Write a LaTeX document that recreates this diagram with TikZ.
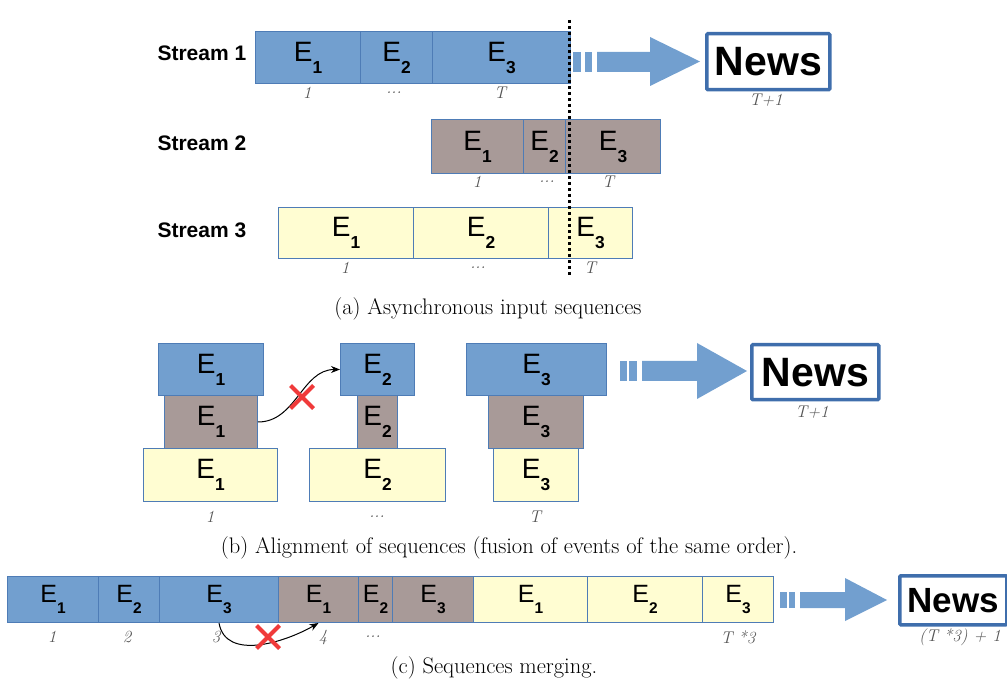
\documentclass[tikz,border=0pt]{standalone}
\usepackage{fontspec}
\usepackage{graphicx}
\setsansfont{Liberation Sans}
\usetikzlibrary{shapes.misc,arrows.meta}
\definecolor{evblue}{HTML}{729FCF}
\definecolor{evbrown}{HTML}{A89A98}
\definecolor{evyellow}{HTML}{FFFDD2}
\definecolor{edgeblue}{HTML}{4E7CB6}
\definecolor{newsblue}{HTML}{3F6EAC}
\definecolor{idxgray}{HTML}{555555}
\definecolor{xred}{HTML}{F03A3A}
% event label: big E with a bold index below the line
\newcommand{\ev}[1]{E\raisebox{-0.43em}{\scalebox{0.62}{\bfseries #1}}}
\tikzset{
  ev/.style={draw=edgeblue, line width=1pt, inner sep=0pt, anchor=north west,
    font=\sffamily\fontsize{28}{28}\selectfont},
  blu/.style={ev, fill=evblue},
  brn/.style={ev, fill=evbrown},
  ylw/.style={ev, fill=evyellow},
  idx/.style={font=\itshape\fontsize{17}{17}\selectfont, text=idxgray},
  strm/.style={anchor=west, font=\sffamily\bfseries\fontsize{21}{21}\selectfont},
  news/.style={draw=newsblue, line width=3.5pt, rounded corners=1pt, fill=white,
    inner sep=0pt, anchor=north west, font=\sffamily\bfseries\fontsize{41}{41}\selectfont},
  caption/.style={font=\fontsize{22.5}{22.5}\selectfont},
  cut/.style={line width=3pt, dash pattern=on 3.5pt off 2.5pt},
  nope/.style={draw=xred, cross out, line width=4pt, minimum size=19pt, inner sep=0pt},
}
\begin{document}
\begin{tikzpicture}[x=1pt,y=-1pt]
 \useasboundingbox (0,0) rectangle (1007,684);
 % (a) asynchronous streams
 \node[strm] (lab1) at (154,53) {Stream 1};
 \node[strm] (lab2) at (154,143) {Stream 2};
 \node[strm] (lab3) at (154,230) {Stream 3};
 \node[blu, minimum width=105pt, minimum height=52pt] (s1a) at (255,31) {\ev{1}};
 \node[blu, minimum width=72pt, minimum height=52pt] (s1b) at (360,31) {\ev{2}};
 \node[blu, minimum width=138pt, minimum height=52pt] (s1c) at (432,31) {\ev{3}};
 \node[brn, minimum width=92pt, minimum height=54pt] (s2a) at (431,119) {\ev{1}};
 \node[brn, minimum width=42pt, minimum height=54pt] (s2b) at (523,119) {\ev{2}};
 \node[brn, minimum width=95pt, minimum height=54pt] (s2c) at (565,119) {\ev{3}};
 \node[ylw, minimum width=135pt, minimum height=51pt] (s3a) at (278,207) {\ev{1}};
 \node[ylw, minimum width=135pt, minimum height=51pt] (s3b) at (413,207) {\ev{2}};
 \node[ylw, minimum width=84pt, minimum height=51pt] (s3c) at (548,207) {\ev{3}};
 \node[idx] (t1a) at (307,93) {1};
 \node[idx] (t1b) at (394,93) {...};
 \node[idx] (t1c) at (500,93) {T};
 \node[idx] (t2a) at (477,182) {1};
 \node[idx] (t2b) at (547,182) {...};
 \node[idx] (t2c) at (608,182) {T};
 \node[idx] (t3a) at (345,268) {1};
 \node[idx] (t3b) at (478,268) {...};
 \node[idx] (t3c) at (590,268) {T};
 \coordinate (cuttop) at (569,20);
 \coordinate (cutbot) at (569,277);
 \draw[cut] (cuttop) -- (cutbot);
 \fill[evblue] (573,52) rectangle (581,72);
 \fill[evblue] (585,52) rectangle (592,72);
 \fill[evblue] (597,52)--(650,52)--(650,37)--(700,61.5)--(650,86)--(650,72)--(597,72)--cycle;
 \node[news, minimum width=123pt, minimum height=56pt] (news1) at (705,32) {News};
 \node[idx] (tn1) at (766,100) {T+1};
 \node[caption] (capa) at (488,309) {(a) Asynchronous input sequences};
 % (b) alignment
 \node[blu, minimum width=105pt, minimum height=52pt] (m1a) at (158,343) {\ev{1}};
 \node[brn, minimum width=93pt, minimum height=53pt] (m1b) at (164,395) {\ev{1}};
 \node[ylw, minimum width=134pt, minimum height=53pt] (m1c) at (143,448) {\ev{1}};
 \node[blu, minimum width=74pt, minimum height=52pt] (m2a) at (340,343) {\ev{2}};
 \node[brn, minimum width=40pt, minimum height=53pt] (m2b) at (357,395) {\ev{2}};
 \node[ylw, minimum width=136pt, minimum height=53pt] (m2c) at (309,448) {\ev{2}};
 \node[blu, minimum width=140pt, minimum height=52pt] (m3a) at (466,343) {\ev{3}};
 \node[brn, minimum width=95pt, minimum height=53pt] (m3b) at (488,395) {\ev{3}};
 \node[ylw, minimum width=85pt, minimum height=53pt] (m3c) at (493,448) {\ev{3}};
 \node[idx] (u1) at (210,517) {1};
 \node[idx] (u2) at (377,517) {...};
 \node[idx] (u3) at (535,517) {T};
 \draw[-{Stealth[length=9pt,width=7pt]}, line width=1pt] (m1b.east) to[out=0,in=180] (m2a.west);
 \node[nope] (x1) at (302,397) {};
 \fill[evblue] (620,361) rectangle (627,381);
 \fill[evblue] (629,361) rectangle (637,381);
 \fill[evblue] (642,361)--(697,361)--(697,343)--(747,371)--(697,399)--(697,381)--(642,381)--cycle;
 \node[news, minimum width=127pt, minimum height=55pt] (news2) at (750,343) {News};
 \node[idx] (tn2) at (812,412) {T+1};
 \node[caption] (capb) at (509,548) {(b) Alignment of sequences (fusion of events of the same order).};
 % (c) merging
 \tikzset{ev/.append style={font=\sffamily\fontsize{25}{25}\selectfont}}
 \node[blu, minimum width=91pt, minimum height=46pt] (b1) at (7,576) {\ev{1}};
 \node[blu, minimum width=61pt, minimum height=46pt] (b2) at (98,576) {\ev{2}};
 \node[blu, minimum width=119pt, minimum height=46pt] (b3) at (159,576) {\ev{3}};
 \node[brn, minimum width=80pt, minimum height=46pt] (b4) at (278,576) {\ev{1}};
 \node[brn, minimum width=34pt, minimum height=46pt] (b5) at (358,576) {\ev{2}};
 \node[brn, minimum width=81pt, minimum height=46pt] (b6) at (392,576) {\ev{3}};
 \node[ylw, minimum width=114pt, minimum height=46pt] (b7) at (473,576) {\ev{1}};
 \node[ylw, minimum width=115pt, minimum height=46pt] (b8) at (587,576) {\ev{2}};
 \node[ylw, minimum width=71pt, minimum height=46pt] (b9) at (702,576) {\ev{3}};
 \node[idx] (v1) at (52,637) {1};
 \node[idx] (v2) at (127,637) {2};
 \node[idx] (v3) at (216,637) {3};
 \node[idx] (v4) at (323,637) {4};
 \node[idx] (v5) at (373,637) {...};
 \node[idx] (v9) at (738,637) {T *3};
 \draw[-{Stealth[length=9pt,width=7pt]}, line width=1pt] (b3.south) to[out=-80,in=-150] (b4.south);
 \node[nope] (x2) at (268,637) {};
 \fill[evblue] (780,592) rectangle (787,608);
 \fill[evblue] (789,592) rectangle (795,608);
 \fill[evblue] (800,592)--(845,592)--(845,578)--(887,600)--(845,621)--(845,608)--(800,608)--cycle;
 \node[news, minimum width=107pt, minimum height=49pt, font=\sffamily\bfseries\fontsize{35}{35}\selectfont] (news3) at (898,574) {News};
 \node[idx] (tn3) at (960,637) {(T *3) + 1};
 \node[caption] (capc) at (494,668) {(c) Sequences merging.};
\end{tikzpicture}
\end{document}
